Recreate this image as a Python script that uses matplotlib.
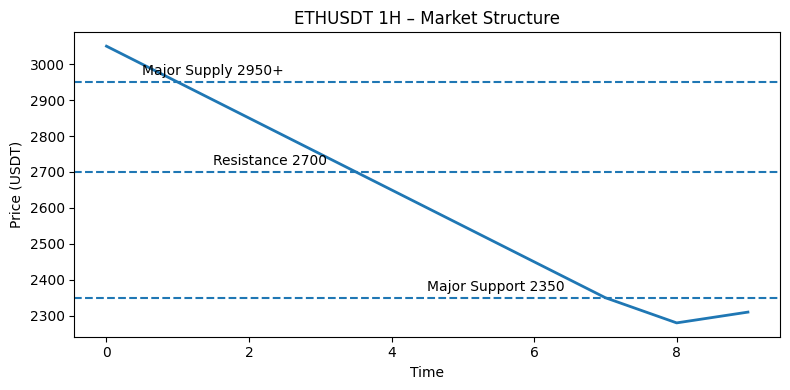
from matplotlib import pyplot as plt
import numpy as np

time = np.arange(10)
price = [3050, 2950, 2850, 2750, 2650, 2550, 2450, 2350, 2280, 2310]

levels = [2950, 2700, 2350]
level_labels = ["Major Supply 2950+", "Resistance 2700", "Major Support 2350"]
label_x = [0.5, 1.5, 4.5]

fig, ax = plt.subplots(figsize=(8, 4), dpi=100)

ax.plot(time, price, linewidth=2)

for lvl, lbl, x in zip(levels, level_labels, label_x):
    ax.axhline(lvl, linestyle='--')
    ax.text(x, lvl + 20, lbl)

ax.set_title("ETHUSDT 1H – Market Structure")
ax.set_xlabel("Time")
ax.set_ylabel("Price (USDT)")

fig.tight_layout()
fig.savefig("out.png", bbox_inches='tight')
